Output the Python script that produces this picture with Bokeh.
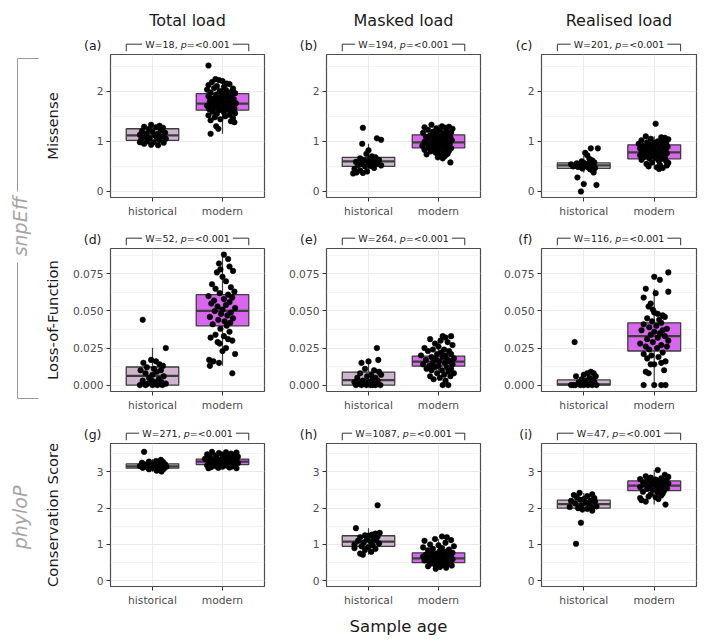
import math
from bokeh.plotting import figure
from bokeh.models import Range1d, FixedTicker
from bokeh.layouts import row, column
from bokeh.embed import file_html
from bokeh.resources import INLINE
from bokeh.core.properties import value

# ---------------- data ----------------
CATEGORIES = ["historical", "modern"]
COL_TITLES = ["Total load", "Masked load", "Realised load"]
ROW_TITLES = ["Missense", "Loss-of-Function", "Conservation Score"]
GROUP_TITLES = ["snpEff", "phyloP"]
X_TITLE = "Sample age"
PANEL_TAGS = ["(a)", "(b)", "(c)", "(d)", "(e)", "(f)", "(g)", "(h)", "(i)"]
W_STATS = [18, 194, 201, 52, 264, 116, 271, 1087, 47]
P_TEXT = "<0.001"

Y_TICKS = [[0, 1, 2], [0, 0.025, 0.05, 0.075], [0, 1, 2, 3]]
Y_TICK_LABELS = [["0", "1", "2"], ["0.000", "0.025", "0.050", "0.075"], ["0", "1", "2", "3"]]
Y_LIMITS = [(-0.12, 2.73), (-0.0043, 0.0921), (-0.157, 3.78)]

# box stats: [lower whisker, q1, median, q3, upper whisker]
BOX_A_HIST = [0.91, 1.02, 1.12, 1.25, 1.35]
BOX_A_MOD = [1.15, 1.62, 1.75, 1.95, 2.25]
BOX_B_HIST = [0.36, 0.50, 0.60, 0.68, 0.95]
BOX_B_MOD = [0.66, 0.87, 0.98, 1.13, 1.33]
BOX_C_HIST = [0.38, 0.46, 0.52, 0.57, 0.72]
BOX_C_MOD = [0.45, 0.65, 0.78, 0.93, 1.10]
BOX_D_HIST = [0.0, 0.0, 0.0063, 0.0122, 0.025]
BOX_D_MOD = [0.013, 0.040, 0.050, 0.061, 0.088]
BOX_E_HIST = [0.0, 0.0, 0.0034, 0.0088, 0.017]
BOX_E_MOD = [0.003, 0.0128, 0.0158, 0.0196, 0.030]
BOX_F_HIST = [0.0, 0.0, 0.0005, 0.0035, 0.008]
BOX_F_MOD = [0.0, 0.023, 0.033, 0.042, 0.065]
BOX_G_HIST = [3.0, 3.10, 3.15, 3.22, 3.35]
BOX_G_MOD = [3.10, 3.20, 3.28, 3.35, 3.55]
BOX_H_HIST = [0.72, 0.95, 1.08, 1.24, 1.45]
BOX_H_MOD = [0.33, 0.50, 0.62, 0.77, 1.15]
BOX_I_HIST = [1.93, 2.00, 2.11, 2.22, 2.42]
BOX_I_MOD = [2.10, 2.48, 2.62, 2.75, 3.05]

# points: (value, jitter offset from the category)
A_HIST = [(1.33, -0.02), (1.31, 0.10), (1.29, -0.12), (1.28, 0.05), (1.27, 0.15), (1.25, -0.05), (1.22, 0.12),
          (1.20, -0.15), (1.19, 0.00), (1.17, 0.18), (1.16, -0.08), (1.15, 0.08), (1.13, -0.18), (1.12, 0.03),
          (1.10, 0.14), (1.09, -0.10), (1.08, 0.06), (1.06, -0.04), (1.05, 0.19), (1.04, -0.16), (1.02, 0.10),
          (1.00, -0.07), (0.98, 0.02), (0.97, 0.16), (0.95, -0.12), (0.93, -0.02), (0.92, 0.08), (0.98, -0.18)]
A_MOD = [(2.51, -0.20), (2.24, -0.10), (2.22, -0.05), (2.20, 0.00), (2.18, -0.15), (2.15, 0.06), (2.14, 0.10),
         (2.12, -0.20), (2.10, -0.08), (2.08, 0.02), (2.06, -0.12), (2.05, 0.15), (2.03, -0.22), (2.02, 0.05),
         (2.00, -0.04), (1.98, 0.12), (1.97, -0.17), (1.96, 0.18), (1.95, 0.00), (1.93, -0.09), (1.92, 0.08),
         (1.90, -0.20), (1.89, 0.13), (1.88, -0.02), (1.86, 0.04), (1.85, -0.13), (1.84, 0.16), (1.83, -0.06),
         (1.82, 0.10), (1.80, -0.18), (1.79, 0.00), (1.78, 0.07), (1.77, -0.10), (1.76, 0.19), (1.75, -0.03),
         (1.74, 0.11), (1.73, -0.15), (1.72, 0.03), (1.71, -0.22), (1.70, 0.14), (1.69, -0.07), (1.68, 0.06),
         (1.67, -0.12), (1.66, 0.17), (1.65, 0.00), (1.64, -0.19), (1.63, 0.09), (1.62, -0.05), (1.60, 0.13),
         (1.59, -0.14), (1.58, 0.02), (1.56, 0.18), (1.55, -0.08), (1.53, 0.10), (1.52, -0.20), (1.50, 0.04),
         (1.48, -0.11), (1.46, 0.15), (1.44, -0.03), (1.42, -0.17), (1.40, 0.12), (1.38, 0.17), (1.30, -0.09),
         (1.25, -0.06), (1.15, -0.17)]
B_HIST = [(1.27, -0.08), (1.06, 0.12), (1.03, 0.18), (0.95, -0.09), (0.82, 0.00), (0.75, -0.03), (0.70, 0.05),
          (0.68, 0.10), (0.66, -0.12), (0.65, 0.02), (0.63, 0.15), (0.62, -0.06), (0.60, 0.08), (0.59, -0.18),
          (0.58, 0.00), (0.56, 0.12), (0.55, -0.10), (0.54, 0.05), (0.53, -0.15), (0.52, 0.18), (0.51, 0.03),
          (0.50, -0.05), (0.47, 0.08), (0.45, -0.20), (0.42, -0.12), (0.40, -0.02), (0.38, -0.17), (0.36, -0.22),
          (0.37, -0.08)]
B_MOD = [(1.33, -0.10), (1.30, 0.05), (1.29, 0.15), (1.28, -0.20), (1.27, 0.10), (1.26, -0.03), (1.25, 0.20),
         (1.23, -0.15), (1.22, 0.02), (1.20, 0.12), (1.19, -0.08), (1.18, 0.18), (1.17, -0.22), (1.16, 0.07),
         (1.15, -0.04), (1.13, 0.14), (1.12, -0.12), (1.11, 0.00), (1.10, 0.09), (1.09, -0.18), (1.08, 0.17),
         (1.07, -0.06), (1.06, 0.04), (1.05, -0.13), (1.04, 0.11), (1.03, -0.01), (1.02, 0.19), (1.01, -0.10),
         (1.00, 0.06), (0.99, -0.20), (0.98, 0.13), (0.97, -0.05), (0.96, 0.02), (0.95, -0.16), (0.94, 0.16),
         (0.93, -0.08), (0.92, 0.08), (0.91, -0.23), (0.90, 0.12), (0.89, -0.02), (0.88, 0.05), (0.87, -0.14),
         (0.86, 0.18), (0.85, -0.07), (0.84, 0.10), (0.83, -0.20), (0.82, 0.00), (0.81, 0.15), (0.80, -0.11),
         (0.78, 0.07), (0.77, -0.04), (0.75, 0.13), (0.74, -0.17), (0.72, 0.03), (0.70, 0.09), (0.68, -0.01),
         (0.66, 0.06), (0.58, 0.17)]
C_HIST = [(0.86, 0.10), (0.86, 0.20), (0.77, 0.02), (0.72, 0.05), (0.65, 0.08), (0.62, 0.12), (0.60, -0.03),
          (0.58, 0.15), (0.57, 0.00), (0.56, -0.10), (0.55, 0.05), (0.54, -0.18), (0.53, 0.10), (0.52, -0.05),
          (0.51, 0.03), (0.50, -0.15), (0.50, 0.12), (0.49, -0.08), (0.48, 0.06), (0.47, 0.16), (0.46, -0.02),
          (0.44, 0.09), (0.42, 0.13), (0.38, 0.14), (0.28, -0.09), (0.15, 0.00), (0.13, 0.18), (0.00, -0.04)]
C_MOD = [(1.35, 0.02), (1.10, -0.12), (1.08, 0.10), (1.07, 0.15), (1.05, -0.05), (1.04, 0.20), (1.02, -0.18),
         (1.00, 0.05), (0.99, 0.12), (0.98, -0.10), (0.97, 0.00), (0.96, 0.17), (0.95, -0.22), (0.94, 0.08),
         (0.93, -0.04), (0.92, 0.14), (0.91, -0.15), (0.90, 0.03), (0.89, 0.19), (0.88, -0.08), (0.87, 0.10),
         (0.86, -0.20), (0.85, 0.06), (0.84, -0.02), (0.83, 0.16), (0.82, -0.12), (0.81, 0.01), (0.80, 0.12),
         (0.79, -0.17), (0.78, 0.07), (0.77, -0.06), (0.76, 0.18), (0.75, -0.10), (0.74, 0.04), (0.73, 0.13),
         (0.72, -0.20), (0.71, -0.01), (0.70, 0.09), (0.69, -0.14), (0.68, 0.15), (0.67, 0.02), (0.66, -0.07),
         (0.65, 0.11), (0.63, -0.18), (0.62, 0.06), (0.60, 0.17), (0.58, -0.03), (0.57, 0.20), (0.55, -0.11),
         (0.53, 0.08), (0.52, 0.18), (0.50, -0.08), (0.48, 0.04), (0.47, 0.12), (0.45, 0.07)]
D_HIST = [(0.044, -0.14), (0.025, 0.19), (0.017, -0.02), (0.016, 0.05), (0.015, -0.13), (0.014, 0.10),
          (0.013, 0.15), (0.012, -0.08), (0.011, 0.02), (0.010, -0.17), (0.010, 0.12), (0.009, 0.06),
          (0.008, -0.10), (0.007, 0.00), (0.006, 0.16), (0.005, -0.05), (0.004, 0.09), (0.003, -0.14),
          (0.002, 0.03), (0.002, 0.13), (0.001, -0.07), (0.000, -0.18), (0.000, -0.10), (0.000, 0.00),
          (0.000, 0.07), (0.000, 0.14), (0.001, 0.19), (0.003, -0.01)]
D_MOD = [(0.088, 0.02), (0.085, 0.08), (0.082, -0.05), (0.080, 0.10), (0.078, -0.03), (0.077, 0.15),
         (0.076, -0.08), (0.073, 0.00), (0.070, 0.05), (0.068, -0.15), (0.066, 0.12), (0.065, -0.10),
         (0.063, 0.17), (0.062, -0.04), (0.061, 0.08), (0.060, -0.20), (0.059, 0.14), (0.058, 0.02),
         (0.057, -0.12), (0.056, 0.10), (0.055, -0.16), (0.054, 0.05), (0.053, -0.07), (0.052, 0.18),
         (0.051, 0.00), (0.050, -0.11), (0.049, 0.12), (0.048, -0.02), (0.047, 0.07), (0.046, -0.18),
         (0.045, 0.15), (0.044, -0.06), (0.043, 0.03), (0.042, 0.11), (0.041, -0.14), (0.040, 0.06),
         (0.038, -0.03), (0.036, 0.10), (0.034, -0.10), (0.033, 0.02), (0.032, -0.17), (0.031, 0.08),
         (0.030, 0.14), (0.029, -0.07), (0.028, -0.04), (0.025, 0.05), (0.023, 0.00), (0.021, 0.18),
         (0.017, -0.19), (0.016, -0.13), (0.015, -0.05), (0.013, -0.18), (0.008, 0.14)]
E_HIST = [(0.025, 0.12), (0.017, 0.14), (0.016, 0.00), (0.015, -0.10), (0.011, -0.05), (0.010, 0.08),
          (0.009, 0.15), (0.008, -0.12), (0.007, 0.04), (0.007, 0.18), (0.006, -0.02), (0.005, 0.10),
          (0.005, -0.16), (0.004, 0.06), (0.003, -0.08), (0.003, 0.13), (0.002, 0.00), (0.001, -0.13),
          (0.001, 0.09), (0.000, -0.18), (0.000, -0.10), (0.000, -0.03), (0.000, 0.03), (0.000, 0.10),
          (0.000, 0.17), (0.000, 0.06), (0.002, -0.20)]
E_MOD = [(0.033, 0.06), (0.033, 0.18), (0.032, 0.10), (0.031, -0.12), (0.030, 0.03), (0.029, 0.13),
         (0.028, -0.05), (0.027, 0.20), (0.026, 0.00), (0.025, -0.20), (0.024, 0.08), (0.024, -0.08),
         (0.023, 0.15), (0.023, -0.15), (0.022, 0.04), (0.021, -0.02), (0.021, 0.18), (0.020, -0.25),
         (0.020, 0.10), (0.019, -0.10), (0.019, 0.06), (0.018, 0.22), (0.018, -0.04), (0.017, 0.13),
         (0.017, -0.18), (0.016, 0.01), (0.016, 0.16), (0.015, -0.08), (0.015, 0.09), (0.014, -0.22),
         (0.014, 0.20), (0.013, 0.00), (0.013, -0.13), (0.012, 0.12), (0.012, -0.05), (0.011, 0.18),
         (0.011, -0.17), (0.010, 0.05), (0.010, -0.10), (0.009, 0.14), (0.008, -0.02), (0.008, 0.22),
         (0.007, 0.08), (0.006, -0.12), (0.006, 0.17), (0.005, 0.02), (0.004, -0.07), (0.003, 0.10),
         (0.000, 0.06), (0.000, 0.14)]
F_HIST = [(0.029, -0.13), (0.009, 0.10), (0.008, 0.05), (0.008, 0.14), (0.007, 0.00), (0.006, -0.11),
          (0.006, 0.17), (0.005, 0.08), (0.004, -0.03), (0.004, 0.12), (0.003, 0.03), (0.002, -0.07),
          (0.002, 0.15), (0.001, 0.10), (0.000, -0.18), (0.000, -0.12), (0.000, -0.05), (0.000, 0.00),
          (0.000, 0.06), (0.000, 0.12), (0.000, 0.18), (0.000, -0.15), (0.001, 0.02)]
F_MOD = [(0.076, 0.20), (0.073, 0.00), (0.071, 0.08), (0.065, -0.12), (0.063, 0.20), (0.062, 0.02),
         (0.059, -0.15), (0.055, -0.05), (0.053, -0.08), (0.051, -0.02), (0.049, 0.00), (0.048, 0.05),
         (0.047, 0.12), (0.046, 0.15), (0.045, -0.10), (0.044, 0.07), (0.043, -0.03), (0.042, 0.10),
         (0.041, -0.15), (0.040, 0.03), (0.039, -0.07), (0.038, 0.18), (0.037, 0.12), (0.037, -0.18),
         (0.036, 0.00), (0.035, 0.08), (0.034, -0.05), (0.033, 0.15), (0.032, 0.05), (0.031, -0.10),
         (0.030, 0.20), (0.029, -0.02), (0.028, -0.20), (0.027, 0.10), (0.026, -0.12), (0.026, 0.18),
         (0.025, 0.04), (0.024, -0.07), (0.022, 0.12), (0.021, -0.15), (0.020, -0.04), (0.019, 0.06),
         (0.018, -0.10), (0.016, 0.16), (0.015, 0.10), (0.014, -0.05), (0.014, 0.00), (0.010, 0.14),
         (0.009, -0.12), (0.008, -0.08), (0.000, -0.15), (0.000, 0.00), (0.000, 0.10), (0.000, 0.16)]
G_HIST = [(3.55, -0.12), (3.33, 0.12), (3.30, 0.05), (3.28, -0.05), (3.27, 0.15), (3.25, -0.15), (3.24, 0.08),
          (3.22, 0.00), (3.21, 0.18), (3.20, -0.10), (3.19, 0.10), (3.18, -0.03), (3.17, 0.14), (3.16, -0.18),
          (3.15, 0.04), (3.14, 0.20), (3.13, -0.08), (3.12, 0.09), (3.11, -0.14), (3.10, 0.02), (3.08, 0.16),
          (3.07, -0.05), (3.05, 0.11), (3.03, 0.06), (3.01, 0.13)]
G_MOD = [(3.55, -0.15), (3.54, 0.05), (3.53, 0.20), (3.52, -0.05), (3.50, 0.12), (3.48, -0.22), (3.47, 0.00),
         (3.46, 0.18), (3.45, -0.10), (3.44, 0.08), (3.42, 0.22), (3.41, -0.18), (3.40, 0.03), (3.39, 0.15),
         (3.38, -0.08), (3.37, 0.10), (3.36, -0.25), (3.35, 0.20), (3.34, -0.02), (3.33, 0.06), (3.32, -0.14),
         (3.31, 0.13), (3.30, 0.00), (3.29, -0.20), (3.28, 0.17), (3.27, -0.06), (3.26, 0.09), (3.25, -0.12),
         (3.24, 0.22), (3.23, 0.02), (3.22, -0.17), (3.21, 0.12), (3.20, -0.04), (3.19, 0.18), (3.18, -0.22),
         (3.17, 0.06), (3.16, -0.10), (3.15, 0.14), (3.14, 0.00), (3.13, -0.16), (3.12, 0.10), (3.11, -0.06),
         (3.10, 0.20), (3.10, -0.20)]
H_HIST = [(2.08, 0.13), (1.45, -0.18), (1.32, 0.16), (1.30, 0.10), (1.27, 0.05), (1.25, -0.05), (1.24, 0.00),
          (1.22, 0.13), (1.20, -0.12), (1.18, 0.08), (1.15, -0.02), (1.12, 0.11), (1.10, -0.15), (1.08, 0.03),
          (1.05, -0.07), (1.03, 0.15), (1.00, -0.20), (0.98, 0.06), (0.95, -0.10), (0.93, 0.00), (0.90, -0.20),
          (0.88, 0.10), (0.85, -0.05), (0.80, 0.04), (0.75, -0.12), (0.72, -0.08)]
H_MOD = [(1.22, 0.05), (1.20, 0.12), (1.15, -0.05), (1.12, 0.18), (1.10, -0.20), (1.05, 0.10), (1.00, -0.12),
         (0.98, 0.00), (0.95, 0.22), (0.92, -0.22), (0.90, 0.05), (0.88, -0.08), (0.86, 0.15), (0.84, -0.15),
         (0.82, 0.02), (0.80, 0.10), (0.78, -0.10), (0.77, 0.20), (0.75, -0.03), (0.74, 0.07), (0.72, -0.18),
         (0.71, 0.13), (0.70, 0.00), (0.69, -0.07), (0.68, 0.18), (0.67, -0.22), (0.66, 0.05), (0.65, -0.12),
         (0.64, 0.10), (0.63, -0.02), (0.62, 0.15), (0.61, -0.16), (0.60, 0.03), (0.59, 0.20), (0.58, -0.08),
         (0.57, 0.08), (0.56, -0.20), (0.55, 0.12), (0.54, -0.04), (0.53, 0.17), (0.52, -0.13), (0.51, 0.00),
         (0.50, 0.09), (0.48, -0.10), (0.46, 0.14), (0.45, -0.05), (0.43, 0.05), (0.42, 0.19), (0.40, -0.15),
         (0.38, 0.02), (0.36, 0.11), (0.33, -0.04)]
I_HIST = [(2.42, -0.06), (2.38, 0.12), (2.36, -0.14), (2.33, 0.05), (2.30, -0.10), (2.28, 0.15), (2.25, 0.00),
          (2.23, -0.05), (2.21, 0.10), (2.20, -0.18), (2.18, 0.16), (2.15, 0.03), (2.13, -0.12), (2.10, 0.08),
          (2.08, -0.03), (2.05, 0.18), (2.03, -0.20), (2.02, 0.12), (2.00, -0.08), (1.98, 0.05), (1.96, -0.02),
          (1.93, 0.12), (1.60, -0.04), (1.02, -0.11)]
I_MOD = [(3.05, 0.05), (2.92, 0.15), (2.88, -0.12), (2.86, 0.20), (2.84, -0.05), (2.82, 0.10), (2.80, -0.20),
         (2.79, 0.02), (2.77, 0.17), (2.75, -0.10), (2.74, 0.08), (2.72, -0.16), (2.70, 0.12), (2.69, -0.03),
         (2.68, 0.20), (2.66, 0.00), (2.65, -0.14), (2.64, 0.06), (2.62, 0.15), (2.60, -0.07), (2.59, 0.10),
         (2.58, -0.20), (2.56, 0.03), (2.55, 0.18), (2.53, -0.10), (2.52, 0.08), (2.50, -0.02), (2.48, 0.14),
         (2.45, -0.16), (2.43, 0.05), (2.40, 0.12), (2.38, -0.05), (2.35, 0.10), (2.32, -0.08), (2.30, 0.02),
         (2.28, -0.20), (2.25, 0.06), (2.22, -0.18), (2.18, -0.12), (2.10, 0.16)]

PANELS = [
    (BOX_A_HIST, BOX_A_MOD, A_HIST, A_MOD), (BOX_B_HIST, BOX_B_MOD, B_HIST, B_MOD),
    (BOX_C_HIST, BOX_C_MOD, C_HIST, C_MOD), (BOX_D_HIST, BOX_D_MOD, D_HIST, D_MOD),
    (BOX_E_HIST, BOX_E_MOD, E_HIST, E_MOD), (BOX_F_HIST, BOX_F_MOD, F_HIST, F_MOD),
    (BOX_G_HIST, BOX_G_MOD, G_HIST, G_MOD), (BOX_H_HIST, BOX_H_MOD, H_HIST, H_MOD),
    (BOX_I_HIST, BOX_I_MOD, I_HIST, I_MOD),
]

# ---------------- style / layout ----------------
FONT = "DejaVu Sans"
FILL = ["#CDB5CD", "#D966EE"]
EDGE = "#3d3d3d"
GRID = "#EBEBEB"
TICK_TXT = "#4D4D4D"
TXT = "#1a1a1a"
X_LO, X_HI = 0.4, 2.6
BOX_HALF = 0.375

FH = 143
FW = [154, 154, 155]
BL = [42, 46, 41]
BR = [16, 20, 13]
PANEL_TOP = 1
HEAD_H = [53, 26, 28]     # header strip above each panel row
PANEL_BOT = [24, 23, 24]
FOOT_H = 34
LEFT_W = 68
TOTAL_H = sum(HEAD_H) + 3 * (PANEL_TOP + FH) + sum(PANEL_BOT) + FOOT_H
GRID_W = sum(BL) + sum(FW) + sum(BR)

CW = {"W": 0.989, "=": 0.838, ",": 0.318, " ": 0.318, "p": 0.635, "<": 0.838, ".": 0.318}
for d in "0123456789":
    CW[d] = 0.636


def text_w(s, size):
    return sum(CW.get(ch, 0.6) for ch in s) * size


def blank(width, height, xr, yr):
    f = figure(width=width, height=height, x_range=xr, y_range=yr,
               x_axis_type=None, y_axis_type=None, min_border=0,
               output_backend="svg", toolbar_location=None, tools="")
    f.outline_line_color = None
    f.background_fill_color = "white"
    return f


def put_text(f, x, y, text, size, color=TXT, align="center", style="normal", angle=0.0):
    f.text(x=[x], y=[y], text=[text], angle=angle, text_font=value(FONT),
           text_font_size=f"{size}px", text_color=color, text_align=align,
           text_baseline="middle", text_font_style=style)


def make_header(k):
    r, c = divmod(k, 3)
    fw = FW[c]
    u = (X_HI - X_LO) / fw           # data units per pixel
    hh = HEAD_H[r]
    h = blank(BL[c] + fw + BR[c], hh, Range1d(X_LO - BL[c] * u, X_HI + BR[c] * u), Range1d(0, hh))
    # y measured in pixels up from the bottom of the header (the frame top is PANEL_TOP below it)
    base = -PANEL_TOP
    put_text(h, X_LO - 9 * u, base + 9.3, PANEL_TAGS[k], 12.5, align="right")
    fs = 9.5
    parts = [f"W={W_STATS[k]}, ", "p", "=" + P_TEXT]
    widths = [text_w(s, fs) for s in parts]
    total = sum(widths)
    xc = (1 + 2) / 2
    x0 = xc - total / 2 * u
    xx = x0
    for s, w, st in zip(parts, widths, ["normal", "italic", "normal"]):
        put_text(h, xx, base + 10, s, fs, align="left", style=st)
        xx += w * u
    xl, xr = 1 - BOX_HALF, 2 + BOX_HALF
    y_hi, y_lo = base + 10.3, base + 3.3
    h.line(x=[xl, xl, x0 - 3 * u], y=[y_lo, y_hi, y_hi], line_color="#333333", line_width=1)
    h.line(x=[x0 + (total + 3) * u, xr, xr], y=[y_hi, y_hi, y_lo], line_color="#333333", line_width=1)
    if r == 0:
        put_text(h, xc, base + 34, COL_TITLES[c], 16)
    return h


def make_panel(k):
    r, c = divmod(k, 3)
    fw = FW[c]
    box_h, box_m, pts_h, pts_m = PANELS[k]
    p = figure(frame_width=fw, frame_height=FH,
               min_border_left=BL[c], min_border_right=BR[c],
               min_border_top=PANEL_TOP, min_border_bottom=PANEL_BOT[r],
               x_range=Range1d(X_LO, X_HI), y_range=Range1d(*Y_LIMITS[r]),
               output_backend="svg", toolbar_location=None, tools="")
    p.outline_line_color = "#4d4d4d"
    p.outline_line_width = 1.2
    p.background_fill_color = "white"

    ticks = Y_TICKS[r]
    step = ticks[1] - ticks[0]
    minor = [t + step / 2 for t in ticks]
    p.yaxis.ticker = FixedTicker(ticks=ticks, minor_ticks=minor)
    p.yaxis.major_label_overrides = {(int(t) if float(t).is_integer() else t): lab
                                     for t, lab in zip(ticks, Y_TICK_LABELS[r])}
    p.xaxis.ticker = FixedTicker(ticks=[1, 2])
    p.xaxis.major_label_overrides = {1: CATEGORIES[0], 2: CATEGORIES[1]}
    for ax in (p.xaxis, p.yaxis):
        ax.axis_line_color = None
        ax.major_tick_line_color = "#333333"
        ax.major_tick_out = 4
        ax.major_tick_in = 0
        ax.minor_tick_line_color = None
        ax.major_label_text_font = FONT
        ax.major_label_text_font_size = "10.7px"
        ax.major_label_text_color = TICK_TXT
        ax.major_label_standoff = 3
    p.xgrid.grid_line_color = GRID
    p.xgrid.grid_line_width = 1.1
    p.ygrid.grid_line_color = GRID
    p.ygrid.grid_line_width = 1.1
    p.ygrid.minor_grid_line_color = GRID
    p.ygrid.minor_grid_line_width = 0.6

    for gi, box in enumerate((box_h, box_m)):
        xc = gi + 1
        lo, q1, med, q3, hi = box
        p.segment(x0=[xc, xc], y0=[lo, q3], x1=[xc, xc], y1=[q1, hi],
                  line_color=EDGE, line_width=1.2)
        p.quad(left=[xc - BOX_HALF], right=[xc + BOX_HALF], bottom=[q1], top=[q3],
               fill_color=FILL[gi], line_color=EDGE, line_width=1.3)
        p.segment(x0=[xc - BOX_HALF], x1=[xc + BOX_HALF], y0=[med], y1=[med],
                  line_color=EDGE, line_width=2.2)
    for gi, pts in enumerate((pts_h, pts_m)):
        xs = [gi + 1 + j for (_, j) in pts]
        ys = [v for (v, _) in pts]
        p.scatter(xs, ys, size=5.6, fill_color="black", line_color="black", line_width=0.5)
    return p


headers = [make_header(k) for k in range(9)]
panels = [make_panel(k) for k in range(9)]

# footer with x-axis title
footer = blank(GRID_W, FOOT_H, Range1d(LEFT_W, LEFT_W + GRID_W), Range1d(0, FOOT_H))
put_text(footer, 398, FOOT_H - 16, X_TITLE, 16.5)

# left strip with row titles and group labels (pixel coordinates, y up)
left = blank(LEFT_W, TOTAL_H, Range1d(0, LEFT_W), Range1d(0, TOTAL_H))
row_tops = []
acc = 0
for r in range(3):
    acc += HEAD_H[r]
    row_tops.append(acc + PANEL_TOP)
    acc += PANEL_TOP + FH + PANEL_BOT[r]
centers = [TOTAL_H - (t + FH / 2) for t in row_tops]
for r in range(3):
    put_text(left, 52, centers[r], ROW_TITLES[r], 14.8, angle=math.pi / 2)
GREY = "#A6A6A6"
put_text(left, 19, TOTAL_H - 226, GROUP_TITLES[0], 19, color=GREY, style="italic", angle=math.pi / 2)
put_text(left, 19, TOTAL_H - 517, GROUP_TITLES[1], 19, color=GREY, style="italic", angle=math.pi / 2)
left.line(x=[38, 17, 17], y=[TOTAL_H - 58, TOTAL_H - 58, TOTAL_H - 191], line_color="#9a9a9a", line_width=1)
left.line(x=[17, 17, 38], y=[TOTAL_H - 262, TOTAL_H - 398, TOTAL_H - 398], line_color="#9a9a9a", line_width=1)

grid = column(
    row(*headers[0:3]), row(*panels[0:3]),
    row(*headers[3:6]), row(*panels[3:6]),
    row(*headers[6:9]), row(*panels[6:9]),
    footer,
)
layout = row(left, grid)

with open("out.html", "w") as f:
    f.write(file_html(layout, INLINE))
